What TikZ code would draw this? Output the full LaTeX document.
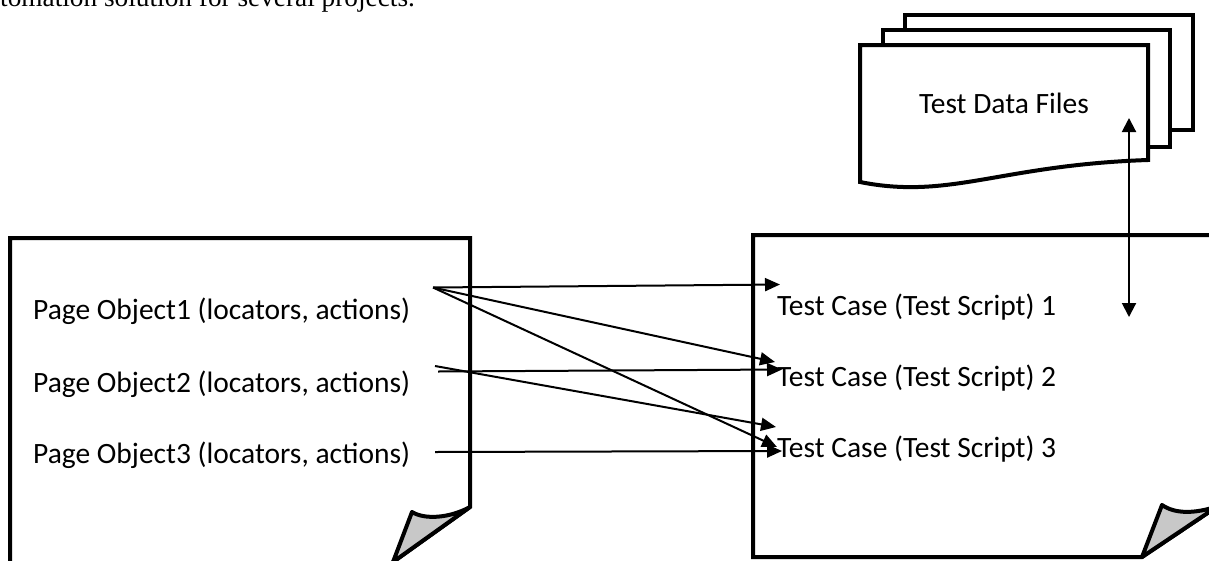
\documentclass[tikz,border=0pt]{standalone}
\usepackage{fontspec}
\setmainfont{Carlito}
\newfontfamily\serifface{Liberation Serif}
\usetikzlibrary{arrows.meta}
\definecolor{foldgray}{RGB}{200,200,200}
\begin{document}
\begin{tikzpicture}[x=1pt,y=-1pt,
  docline/.style={line width=4pt, line join=miter, draw=black},
  foldshape/.style={line width=4pt, line join=round, draw=black, fill=foldgray},
  conn/.style={line width=2pt, -{Triangle[length=15pt,width=13pt]}},
  biconn/.style={line width=2pt, {Triangle[length=14pt,width=14pt]}-{Triangle[length=14pt,width=14pt]}},
  lbl/.style={anchor=base west, inner sep=0pt, font=\fontsize{29.5}{35}\selectfont},
]
\useasboundingbox (0,0) rectangle (1209,560);
\clip (0,0) rectangle (1209,560);

% intro text (cut at top)
\node[anchor=base west, inner sep=0pt, font=\serifface\fontsize{27.3}{32}\selectfont] (intro) at (0,6.5) {tomation solution for several projects.};

% multi-document stack
\draw[docline, fill=white] (905,15) -- (1193,15) -- (1193,130) -- (905,130) -- cycle;
\draw[docline, fill=white] (883,30) -- (1170,30) -- (1170,147) -- (883,147) -- cycle;
\draw[docline, fill=white] (860,45) -- (1148,45) -- (1148,160)
   .. controls (1000,165) and (950,200) .. (860,182) -- cycle;
\node[anchor=base, inner sep=0pt, font=\fontsize{29.5}{35}\selectfont] (data) at (1004,113) {Test Data Files};

% left document (page objects)
\draw[docline, fill=white] (10,566) -- (10,238) -- (470,238) -- (470,507) -- (393,562) -- (393,566);
\draw[foldshape] (470,507) .. controls (450,518) and (425,520) .. (412,512) -- (393,562) -- cycle;

% right document (test cases)
\draw[docline, fill=white] (1142,557) -- (753,557) -- (753,235) -- (1218,235) -- (1218,506) -- cycle;
\draw[foldshape] (1218,506) .. controls (1195,514) and (1175,514) .. (1162,505) -- (1142,557) -- cycle;

% labels
\node[lbl] (po1) at (33,319) {Page Object1 (locators, actions)};
\node[lbl] (po2) at (33,392) {Page Object2 (locators, actions)};
\node[lbl] (po3) at (33,463) {Page Object3 (locators, actions)};
\node[lbl] (tc1) at (777,315.5) {Test Case (Test Script) 1};
\node[lbl] (tc2) at (777,386) {Test Case (Test Script) 2};
\node[lbl] (tc3) at (777,457) {Test Case (Test Script) 3};

% connector end points
\coordinate (s1) at (433,287.5);
\coordinate (s2a) at (438,371.5);
\coordinate (s2b) at (435,366);
\coordinate (s3) at (435,452);
\coordinate (t1) at (780,284.5);
\coordinate (t2a) at (775,362);
\coordinate (t2b) at (782,369.5);
\coordinate (t3a) at (776,427);
\coordinate (t3b) at (777,447);
\coordinate (t3c) at (782,451);
\coordinate (dtop) at (1129,118);
\coordinate (dbot) at (1129,317);

\draw[conn] (s1) -- (t1);
\draw[conn] (s1) -- (t2a);
\draw[conn] (s1) -- (t3b);
\draw[conn] (s2a) -- (t2b);
\draw[conn] (s2b) -- (t3a);
\draw[conn] (s3) -- (t3c);
\draw[biconn] (dtop) -- (dbot);
\end{tikzpicture}
\end{document}
